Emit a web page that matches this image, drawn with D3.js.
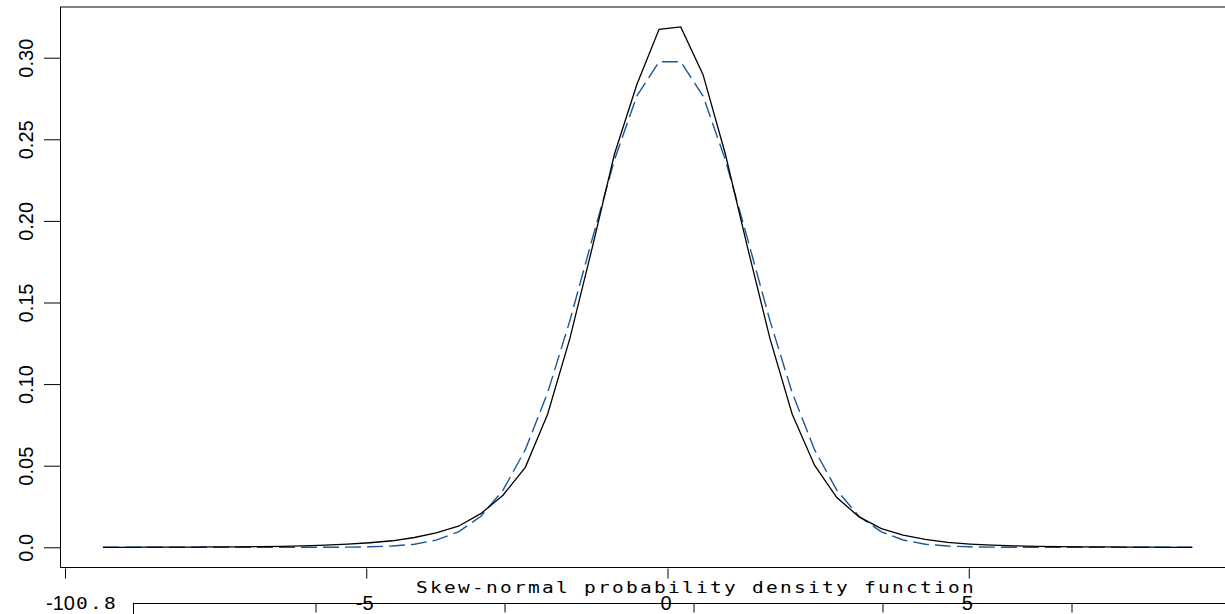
<!DOCTYPE html>
<html><head><meta charset="utf-8">
<script src="https://cdn.jsdelivr.net/npm/d3@7"></script>
<style>html,body{margin:0;padding:0;background:#fff;overflow:hidden}</style>
</head><body><svg id="c" width="1225" height="614"></svg>
<script>
const xValues=[-9.37,-9.00,-8.63,-8.26,-7.89,-7.53,-7.16,-6.79,-6.42,-6.05,-5.68,-5.31,-4.94,-4.57,-4.20,-3.84,-3.47,-3.10,-2.73,-2.36,-1.99,-1.62,-1.25,-0.88,-0.51,-0.14,0.22,0.59,0.96,1.33,1.70,2.07,2.44,2.81,3.18,3.55,3.91,4.28,4.65,5.02,5.39,5.76,6.13,6.50,6.87,7.24,7.60,7.97,8.34,8.71];
const solidDensity=[0.0000,0.0000,0.0001,0.0001,0.0001,0.0002,0.0003,0.0004,0.0006,0.0009,
0.0013,0.0019,0.0028,0.0040,0.0060,0.0088,0.0129,0.0206,0.0319,0.0490,
0.0815,0.1280,0.1835,0.2410,0.2834,0.3174,0.3189,0.2896,0.2410,0.1835,
0.1280,0.0815,0.0503,0.0305,0.0186,0.0115,0.0074,0.0048,0.0030,0.0020,
0.0013,0.0009,0.0006,0.0004,0.0003,0.0002,0.0001,0.0001,0.0000,0.0000];
const dashedDensity=[0,0,0,0,0,0,0,0,0,0,
0.0000,0.0001,0.0003,0.0008,0.0019,0.0044,0.0095,0.0189,0.0350,0.0598,
0.0947,0.1389,0.1888,0.2374,0.2765,0.2975,0.2975,0.2765,0.2374,0.1888,
0.1389,0.0947,0.0598,0.0350,0.0189,0.0095,0.0045,0.0019,0.0008,0.0003,
0.0001,0,0,0,0,0,0,0,0,0];
const xTicks=[-10,-5,0,5];
const xTickLabels=["-10","-5","0","5"];
const yTicks=[0,0.05,0.10,0.15,0.20,0.25,0.30];
const yTickLabels=["0.0","0.05","0.10","0.15","0.20","0.25","0.30"];
const subTitle="Skew-normal probability density function";
const strayLabel="0.8";
const lowerTicks=[1,2,3,4,5];

const svg=d3.select("#c");
const x=d3.scaleLinear().domain([-10,0]).range([65,667.5]);
const y=d3.scaleLinear().domain([0,0.30]).range([547.3,57.7]);
const sans="'Liberation Sans', Arial, sans-serif";
const mono="'DejaVu Sans Mono', 'Liberation Mono', monospace";

// main box
svg.append("rect").attr("x",60.5).attr("y",7).attr("width",1200).attr("height",560.5)
  .attr("fill","none").attr("stroke","#000").attr("stroke-width",1);

// y axis
const ya=svg.append("g").attr("transform","translate(60,0)")
  .call(d3.axisLeft(y).tickValues(yTicks).tickSize(16).tickFormat((d,i)=>yTickLabels[i]));
ya.select(".domain").remove();
ya.selectAll(".tick line").attr("stroke","#000");
ya.selectAll(".tick text").attr("x",null).attr("dy",null)
  .attr("transform","translate(-27,0) rotate(-90)")
  .attr("text-anchor","middle").attr("fill","#000")
  .style("font-family",sans).style("font-size","20px");

// x axis
const xa=svg.append("g").attr("transform","translate(0,568.5)")
  .call(d3.axisBottom(x).tickValues(xTicks).tickSize(10).tickFormat((d,i)=>xTickLabels[i]));
xa.select(".domain").remove();
xa.selectAll(".tick line").attr("stroke","#000");
xa.selectAll(".tick text").attr("y",41).attr("dy",null).attr("dx",(d)=>d===-10?-5:-2)
  .attr("fill","#000").style("font-family",sans).style("font-size","20px");

// curves
const line=d3.line().x((d,i)=>x(xValues[i])).y(d=>y(d));
svg.append("path").datum(dashedDensity).attr("d",line).attr("fill","none")
  .attr("stroke","#1a5796").attr("stroke-width",1.4).attr("stroke-dasharray","16,6");
svg.append("path").datum(solidDensity).attr("d",line).attr("fill","none")
  .attr("stroke","#000").attr("stroke-width",1.3);

// lower stray panel
const s2=d3.scaleLinear().domain([1,5]).range([315.5,1071.5]);
svg.append("rect").attr("x",133.5).attr("y",603.5).attr("width",1200).attr("height",60)
  .attr("fill","none").attr("stroke","#000").attr("stroke-width",1);
const la=svg.append("g").attr("transform","translate(0,603.5)")
  .call(d3.axisBottom(s2).tickValues(lowerTicks).tickSize(9).tickFormat(""));
la.select(".domain").remove();
la.selectAll(".tick line").attr("stroke","#000");

svg.append("text").attr("transform","translate(416,593) scale(1.3,1)").text(subTitle)
  .style("font-family",mono).style("font-size","15px").style("letter-spacing","1.75px").attr("fill","#000");
svg.append("text").attr("transform","translate(76,609) scale(1.3,1)").text(strayLabel)
  .style("font-family",mono).style("font-size","15px").style("letter-spacing","1.75px").attr("fill","#000");
</script></body></html>
